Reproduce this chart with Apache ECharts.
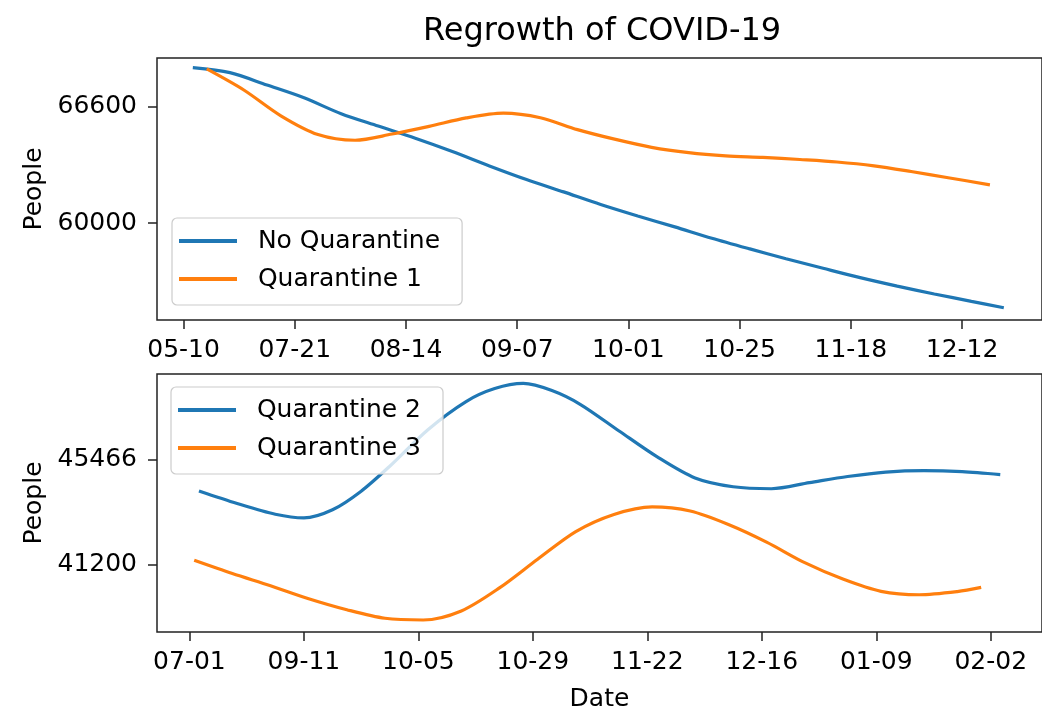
<!DOCTYPE html>
<html>
<head>
<meta charset="utf-8">
<script src="https://cdn.jsdelivr.net/npm/echarts@6/dist/echarts.min.js"></script>
<style>
  html, body { margin: 0; padding: 0; background: #fff; }
  #box { width: 1042px; height: 713px; }
</style>
</head>
<body>
<div id="box"></div>
<script>
// tick labels (one every 24 days)
const tickDays = [0, 24, 48, 72, 96, 120, 144, 168];
const topLabels = ['05-10', '07-21', '08-14', '09-07', '10-01', '10-25', '11-18', '12-12'];
const bottomLabels = ['07-01', '09-11', '10-05', '10-29', '11-22', '12-16', '01-09', '02-02'];

const topYTicks = [60000, 66600];
const bottomYTicks = [41200, 45466];

// top panel
const noQuarantineDays = [2, 10, 18, 26, 34, 42, 50, 58, 66, 74, 82, 90, 98, 106, 114, 122, 130, 138, 146, 154, 162, 170, 177];
const noQuarantine = [68790, 68510, 67810, 67090, 66190, 65490, 64800, 64050, 63240, 62470, 61770, 61060, 60410,
    59790, 59150, 58560, 57990, 57450, 56920, 56440, 56000, 55580, 55220];

const quarantine1Days = [5, 13, 21, 29, 37, 45, 53, 61, 69, 77, 85, 93, 101, 109, 117, 125, 133, 141, 149, 157, 165, 174];
const quarantine1 = [68720, 67530, 66070, 65010, 64690, 65040, 65470, 65950, 66220, 65960, 65290, 64750, 64290,
    63990, 63810, 63720, 63600, 63460, 63240, 62920, 62570, 62170];

// bottom panel
const quarantine2Days = [2, 10, 18, 24, 30, 36, 42, 50, 58, 64, 70, 76, 82, 90, 98, 106, 114, 122, 130, 138, 146, 154, 162, 170];
const quarantine2 = [44200, 43690, 43250, 43100, 43430, 44190, 45210, 46700, 47850, 48380, 48590, 48300, 47730,
    46660, 45600, 44730, 44370, 44290, 44540, 44790, 44970, 45030, 44990, 44870];

const quarantine3Days = [1, 9, 17, 25, 33, 41, 49, 57, 65, 73, 81, 89, 97, 105, 113, 121, 129, 137, 145, 153, 161, 166];
const quarantine3 = [41370, 40830, 40330, 39800, 39350, 39000, 38930, 39300, 40240, 41410, 42540, 43240, 43550,
    43380, 42830, 42110, 41270, 40600, 40100, 39960, 40090, 40260];

const font = 'DejaVu Sans';
const ink = '#000';
const frame = '#222';
const blue = '#1f77b4';
const orange = '#ff7f0e';

function pairs(xs, ys) {
    return xs.map((x, i) => [x, ys[i]]);
}

function xAxisOf(idx, min, max, labels, named) {
    return {
        type: 'value',
        gridIndex: idx,
        min: min,
        max: max,
        name: named ? 'Date' : '',
        nameLocation: 'middle',
        nameGap: 55,
        nameTextStyle: { color: ink, fontFamily: font, fontSize: 25 },
        axisLine: { show: false, onZero: false },
        splitLine: { show: false },
        axisTick: {
            show: true,
            length: 9,
            customValues: tickDays,
            lineStyle: { color: frame, width: 1.5 }
        },
        axisLabel: {
            color: ink,
            fontFamily: font,
            fontSize: 25,
            margin: 18,
            customValues: tickDays,
            formatter: v => labels[Math.round(v / 24)]
        }
    };
}

function yAxisOf(idx, min, max, ticks) {
    return {
        type: 'value',
        gridIndex: idx,
        min: min,
        max: max,
        name: 'People',
        nameLocation: 'middle',
        nameGap: 99,
        nameTextStyle: { color: ink, fontFamily: font, fontSize: 25 },
        axisLine: { show: false, onZero: false },
        splitLine: { show: false },
        axisTick: {
            show: true,
            length: 9,
            customValues: ticks,
            lineStyle: { color: frame, width: 1.5 }
        },
        axisLabel: {
            color: ink,
            fontFamily: font,
            fontSize: 25,
            margin: 20,
            customValues: ticks,
            formatter: v => String(v)
        }
    };
}

function legendOf(names, left, top) {
    return {
        data: names,
        orient: 'vertical',
        left: left,
        top: top,
        icon: 'rect',
        itemWidth: 58,
        itemHeight: 4,
        itemGap: 8,
        padding: [8, 22, 11, 7],
        backgroundColor: 'rgba(255,255,255,0.8)',
        borderColor: '#cccccc',
        borderWidth: 1.2,
        borderRadius: 5,
        formatter: name => '  ' + name,
        textStyle: { color: ink, fontFamily: font, fontSize: 25, lineHeight: 30 }
    };
}

function lineOf(name, xi, yi, data, color) {
    return {
        name: name,
        type: 'line',
        xAxisIndex: xi,
        yAxisIndex: yi,
        data: data,
        smooth: 0.3,
        showSymbol: false,
        lineStyle: { color: color, width: 3.2 },
        itemStyle: { color: color },
        z: 3
    };
}

const chart = echarts.init(document.getElementById('box'), null, { renderer: 'canvas' });

const option = {
    backgroundColor: '#fff',
    animation: false,
    title: {
        text: 'Regrowth of COVID-19',
        left: 418,
        top: 11,
        textStyle: { color: ink, fontFamily: font, fontSize: 32, fontWeight: 'normal' }
    },
    legend: [
        legendOf(['No Quarantine', 'Quarantine 1'], 172, 218),
        legendOf(['Quarantine 2', 'Quarantine 3'], 171, 387)
    ],
    grid: [
        { left: 157, top: 58, width: 893, height: 262, show: true, borderColor: frame, borderWidth: 1.5, backgroundColor: 'transparent' },
        { left: 157, top: 374, width: 893, height: 263, show: true, borderColor: frame, borderWidth: 1.5, backgroundColor: 'transparent' }
    ],
    xAxis: [
        xAxisOf(0, -5.73, 185.24, topLabels, false),
        xAxisOf(1, -6.8, 178.75, bottomLabels, true)
    ],
    yAxis: [
        yAxisOf(0, 54527, 69339, topYTicks),
        yAxisOf(1, 38439, 48976, bottomYTicks)
    ],
    series: [
        lineOf('No Quarantine', 0, 0, pairs(noQuarantineDays, noQuarantine), blue),
        lineOf('Quarantine 1', 0, 0, pairs(quarantine1Days, quarantine1), orange),
        lineOf('Quarantine 2', 1, 1, pairs(quarantine2Days, quarantine2), blue),
        lineOf('Quarantine 3', 1, 1, pairs(quarantine3Days, quarantine3), orange)
    ]
};

chart.setOption(option);
</script>
</body>
</html>
